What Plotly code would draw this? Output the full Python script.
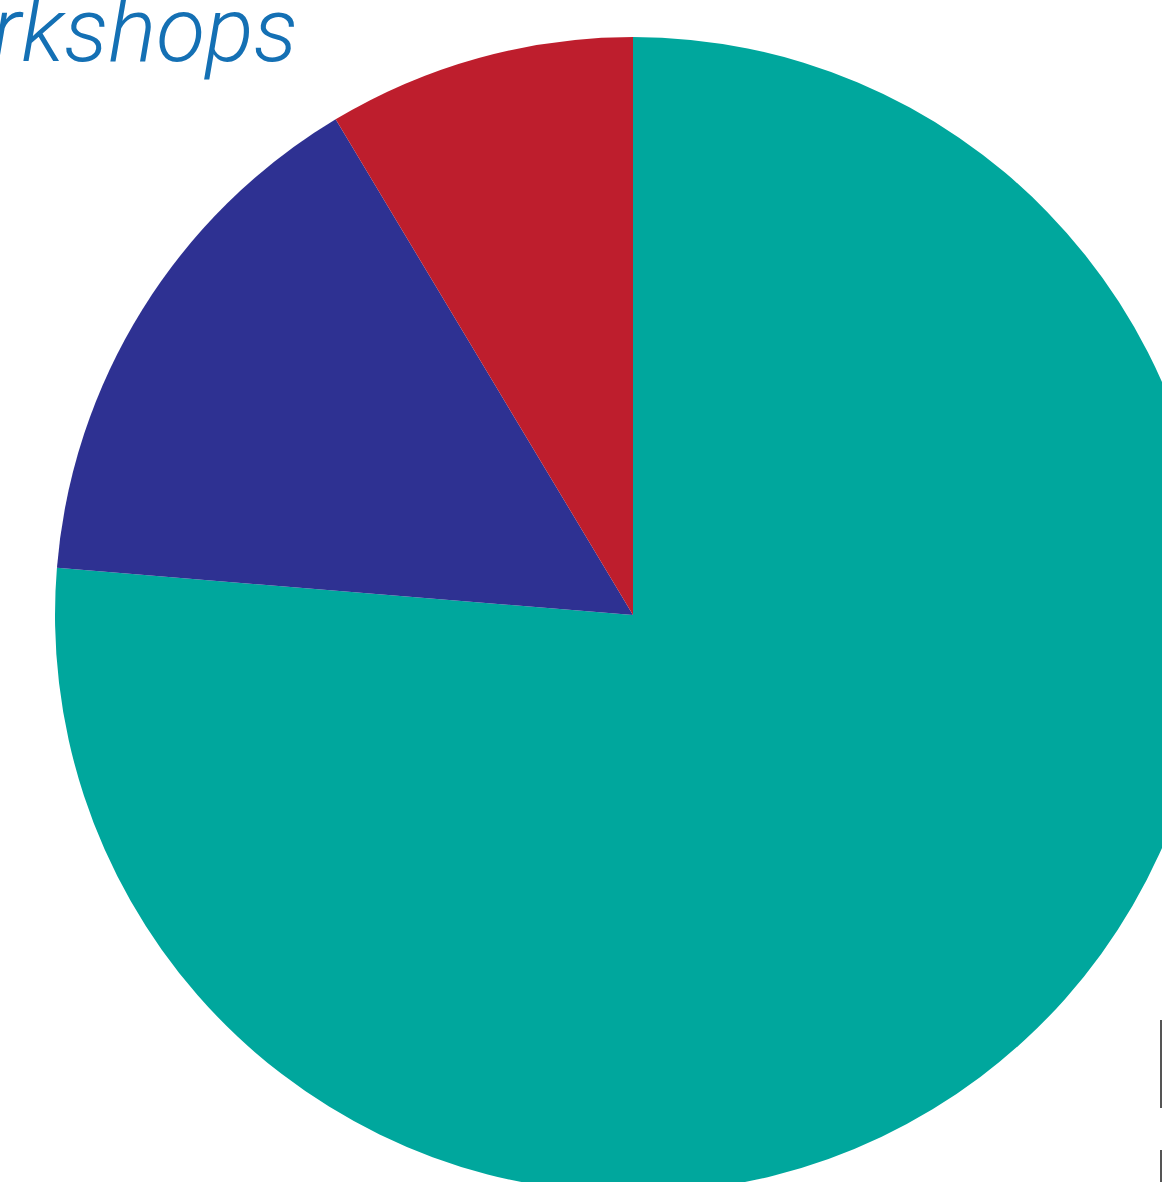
import plotly.graph_objects as go

# Data (shares in %), listed clockwise from 12 o'clock
categories = ["Category C", "Category B", "Category A"]
values = [76.3, 15.1, 8.6]
colors = ["#00A79D", "#2E3192", "#BE1E2D"]
title_text = "Workshops"

# Layout geometry (pixels)
CX, CY, R = 633, 615, 578
W = CX + R
H = CY + R
L = CX - R
T = CY - R
PW = W - L
PH = H - T

fig = go.Figure(
    go.Pie(
        labels=categories,
        values=values,
        marker=dict(colors=colors, line=dict(width=0)),
        sort=False,
        direction="clockwise",
        rotation=0,
        textinfo="none",
        hoverinfo="label+percent",
        showlegend=False,
        domain=dict(x=[0, 1], y=[0, 1]),
    )
)

def px_x(x):
    return (x - L) / PW

def px_y(y):
    return 1 - (y - T) / PH

fig.add_annotation(
    text=title_text,
    xref="paper", yref="paper",
    x=px_x(300), y=px_y(-24),
    xanchor="right", yanchor="top",
    showarrow=False,
    font=dict(family="Roboto", size=90, color="#1470B4", style="italic", weight=300),
)

# cropped vertical rules at bottom right
for y0, y1 in [(1020, 1108), (1150, 1200)]:
    fig.add_shape(
        type="line", xref="paper", yref="paper",
        x0=px_x(1161), x1=px_x(1161), y0=px_y(y0), y1=px_y(y1),
        line=dict(color="#555555", width=2),
    )

fig.update_layout(
    width=W, height=H,
    margin=dict(l=L, r=0, t=T, b=0, pad=0),
    paper_bgcolor="white",
    plot_bgcolor="white",
)

fig.write_html(
    "out.html",
    config={"displayModeBar": False},
    post_script="document.body.style.margin='0';document.body.style.overflow='hidden';",
)
